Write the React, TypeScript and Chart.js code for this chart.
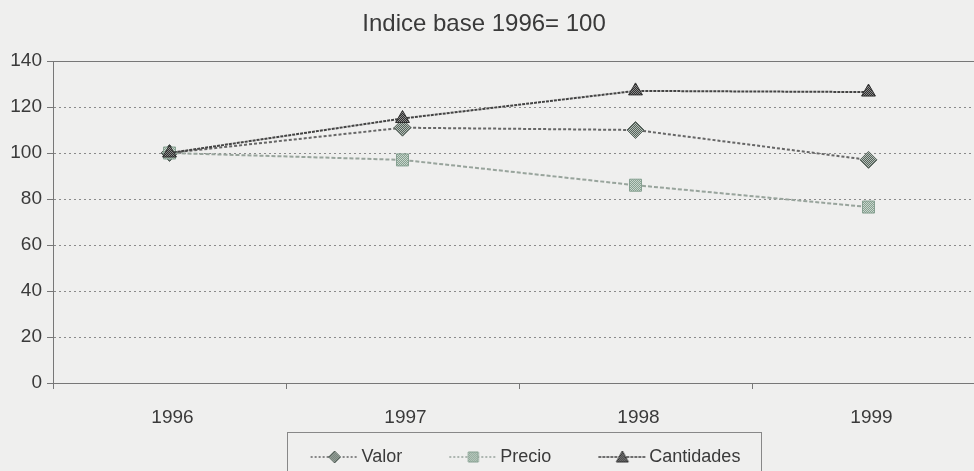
import React, { useEffect, useRef } from 'react';
import { Chart, registerables } from 'chart.js';

Chart.register(...registerables);

const categories = ['1996', '1997', '1998', '1999'];
const valor = [100, 111, 110, 97];
const precio = [100, 97, 86, 76.5];
const cantidades = [100, 115, 127, 126.5];
const yTicks = [0, 20, 40, 60, 80, 100, 120, 140];
const titleText = 'Indice base 1996= 100';
const seriesNames = ['Valor', 'Precio', 'Cantidades'];

const FONT = '"Liberation Sans", Arial, Helvetica, sans-serif';
const TEXT = '#3a3a3a';
const BOX_W = 70;

function makePattern(a: string, b: string) {
  const c = document.createElement('canvas');
  c.width = 2;
  c.height = 2;
  const x = c.getContext('2d')!;
  x.fillStyle = a;
  x.fillRect(0, 0, 2, 2);
  x.fillStyle = b;
  x.fillRect(0, 0, 1, 1);
  x.fillRect(1, 1, 1, 1);
  return x.createPattern(c, 'repeat')!;
}

function makeIcon(lineColor: string, dash: number[], fill: any, border: string, shape: string) {
  const W = BOX_W + 12;
  const H = 18;
  const c = document.createElement('canvas');
  c.width = W;
  c.height = H;
  const x = c.getContext('2d')!;
  const start = BOX_W - 36;
  const cx = start + 24;
  const cy = H / 2;
  x.strokeStyle = lineColor;
  x.lineWidth = 1.5;
  x.setLineDash(dash);
  x.beginPath();
  x.moveTo(start, cy);
  x.lineTo(W, cy);
  x.stroke();
  x.setLineDash([]);
  x.fillStyle = fill;
  x.strokeStyle = border;
  x.lineWidth = 1;
  x.beginPath();
  if (shape === 'diamond') {
    x.moveTo(cx, cy - 6);
    x.lineTo(cx + 6, cy);
    x.lineTo(cx, cy + 6);
    x.lineTo(cx - 6, cy);
    x.closePath();
  } else if (shape === 'square') {
    x.rect(cx - 5, cy - 5, 10, 10);
  } else {
    x.moveTo(cx, cy - 6);
    x.lineTo(cx + 6, cy + 5);
    x.lineTo(cx - 6, cy + 5);
    x.closePath();
  }
  x.fill();
  x.stroke();
  return c;
}

export default function App() {
  const ref = useRef<HTMLCanvasElement>(null);

  useEffect(() => {
    const canvas = ref.current!;
    const patV = makePattern('#56625b', '#b4bfb7');
    const patP = makePattern('#86a091', '#c9d6cc');
    const patC = makePattern('#2f2f2f', '#8c8c8c');

    const colV = '#666666';
    const colP = '#98a49c';
    const colC = '#444444';

    const icons = [
      makeIcon(colV, [2, 2], patV, '#56625b', 'diamond'),
      makeIcon(colP, [2, 2], patP, '#86a091', 'square'),
      makeIcon(colC, [3, 1], patC, '#2f2f2f', 'triangle'),
    ];

    const framePlugin = {
      id: 'frame',
      afterDraw(chart: any) {
        const ctx = chart.ctx;
        const a = chart.chartArea;
        ctx.save();
        // top frame line
        ctx.strokeStyle = '#777';
        ctx.lineWidth = 1;
        ctx.beginPath();
        ctx.moveTo(a.left, Math.round(a.top) + 0.5);
        ctx.lineTo(a.right, Math.round(a.top) + 0.5);
        ctx.stroke();
        // title
        ctx.fillStyle = TEXT;
        ctx.font = `24px ${FONT}`;
        ctx.textAlign = 'center';
        ctx.textBaseline = 'middle';
        ctx.fillText(titleText, a.left + a.width * 0.4625, 24);
        // legend frame
        const lg = chart.legend;
        const hb = lg.legendHitBoxes;
        if (hb && hb.length) {
          const first = hb[0];
          const last = hb[hb.length - 1];
          const left = first.left + BOX_W - 42 - 24;
          const right = last.left + last.width + 20;
          const top = first.top - 16;
          ctx.strokeStyle = '#888';
          ctx.lineWidth = 1;
          ctx.strokeRect(Math.round(left) + 0.5, Math.round(top) + 0.5, Math.round(right - left), 60);
        }
        ctx.restore();
      },
    };

    const chart = new Chart(canvas, {
      type: 'line',
      data: {
        labels: categories,
        datasets: [
          {
            label: seriesNames[0],
            data: valor,
            order: 2,
            borderColor: colV,
            borderWidth: 2,
            borderDash: [3, 2],
            pointStyle: 'rectRot',
            pointRadius: 8.5,
            pointBackgroundColor: patV,
            pointBorderColor: '#56625b',
            pointBorderWidth: 1,
            tension: 0,
            fill: false,
          },
          {
            label: seriesNames[1],
            data: precio,
            order: 1,
            borderColor: colP,
            borderWidth: 2,
            borderDash: [4, 2],
            pointStyle: 'rect',
            pointRadius: 8.5,
            pointBackgroundColor: patP,
            pointBorderColor: '#86a091',
            pointBorderWidth: 1,
            tension: 0,
            fill: false,
          },
          {
            label: seriesNames[2],
            data: cantidades,
            order: 0,
            borderColor: colC,
            borderWidth: 2,
            borderDash: [3, 1],
            pointStyle: 'triangle',
            pointRadius: 8,
            pointBackgroundColor: patC,
            pointBorderColor: '#2f2f2f',
            pointBorderWidth: 1,
            tension: 0,
            fill: false,
          },
        ],
      } as any,
      options: {
        responsive: false,
        animation: false,
        devicePixelRatio: 1,
        layout: { padding: { top: 61, left: 0, right: 0, bottom: 0 } },
        scales: {
          x: {
            type: 'category',
            offset: true,
            grid: {
              offset: true,
              drawOnChartArea: false,
              drawTicks: true,
              tickLength: 6,
              color: '#777',
              tickColor: '#777',
            },
            border: { color: '#777', width: 1 },
            ticks: {
              color: TEXT,
              font: { family: FONT, size: 19 },
              padding: 17,
              labelOffset: 3,
              maxRotation: 0,
              autoSkip: false,
            },
            afterFit: (s: any) => {
              s.height = 46;
            },
          },
          y: {
            min: 0,
            max: 140,
            afterBuildTicks: (s: any) => {
              s.ticks = yTicks.map((v) => ({ value: v }));
            },
            ticks: {
              color: TEXT,
              font: { family: FONT, size: 19 },
              padding: 5,
            },
            grid: { color: '#8a8a8a', tickColor: '#777', tickLength: 6, lineWidth: 1 },
            border: { dash: [2, 3], color: '#777', width: 1 },
            afterFit: (s: any) => {
              s.width = 53;
            },
          },
          y2: {
            type: 'linear',
            position: 'right',
            display: true,
            grid: { display: false },
            ticks: { display: false },
            border: { display: false },
            afterFit: (s: any) => {
              s.width = 38;
            },
          },
        },
        plugins: {
          title: { display: false },
          tooltip: { enabled: false },
          legend: {
            display: true,
            position: 'bottom',
            align: 'center',
            labels: {
              usePointStyle: true,
              pointStyleWidth: BOX_W,
              boxHeight: 18,
              padding: 19,
              color: TEXT,
              font: { family: FONT, size: 18 },
              generateLabels: (ch: any) =>
                ch.data.datasets.map((ds: any, i: number) => ({
                  text: ds.label,
                  pointStyle: icons[i],
                  fillStyle: 'rgba(0,0,0,0)',
                  strokeStyle: 'rgba(0,0,0,0)',
                  lineWidth: 0,
                  hidden: false,
                  datasetIndex: i,
                  fontColor: TEXT,
                })),
            },
          },
        },
      } as any,
      plugins: [framePlugin],
    });

    return () => {
      chart.destroy();
    };
  }, []);

  return (
    <div
      style={{
        position: 'absolute',
        left: 0,
        top: 0,
        width: 974,
        height: 471,
        overflow: 'hidden',
        background: '#efefee',
      }}
    >
      <canvas ref={ref} width={1023} height={476} style={{ display: 'block', width: 1023, height: 476 }} />
    </div>
  );
}
